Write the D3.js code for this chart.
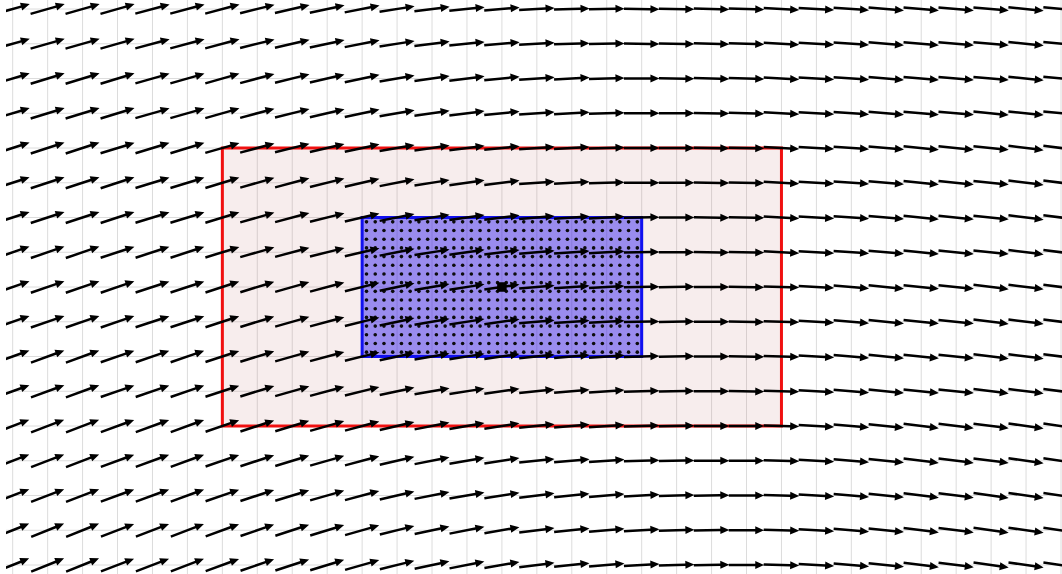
<!DOCTYPE html>
<html>
<head>
<meta charset="utf-8">
<script src="https://cdn.jsdelivr.net/npm/d3@7"></script>
<style>
  html, body { margin: 0; padding: 0; background: #fff; }
  svg { display: block; }
</style>
</head>
<body>
<svg id="chart" width="1062" height="574"></svg>
<script>
// Grid coordinates of the vector field (x columns, y rows)
const xGrid = [-14,-13,-12,-11,-10,-9,-8,-7,-6,-5,-4,-3,-2,-1,0,1,2,3,4,5,6,7,8,9,10,11,12,13,14,15,16];
const yGrid = [8,7,6,5,4,3,2,1,0,-1,-2,-3,-4,-5,-6,-7,-8];

// Flow direction (degrees, counter-clockwise from east) per row (top to bottom), per column (west to east)
const angleRows = [
  [16,16,16,16,15,15,15,14,13,12,11,9,7,6,5,3,2,1,-1,-1,-2,-2,-3,-3,-4,-5,-5,-5,-5,-6,-6],
  [16,16,16,16,15,15,15,14,13,12,11,9,7,6,5,3,2,1,-1,-1,-2,-2,-3,-3,-4,-5,-5,-5,-5,-6,-6],
  [17,17,17,17,16,16,16,15,14,13,12,10,8,7,6,4,3,2,0,-1,-2,-2,-3,-3,-4,-5,-5,-5,-5,-6,-6],
  [17,17,17,17,16,16,16,15,14,13,12,10,8,7,6,4,3,2,0,0,-1,-2,-3,-3,-4,-5,-5,-5,-6,-6,-6],
  [18,18,18,17,17,17,16,15,14,13,12,10,8,7,6,4,3,2,0,0,-1,-1,-3,-3,-4,-5,-6,-6,-6,-7,-7],
  [18,18,18,18,17,17,17,16,15,14,13,11,9,8,7,4,3,2,0,0,-1,-1,-3,-3,-4,-5,-6,-6,-6,-7,-7],
  [18,18,18,18,17,17,17,16,15,14,13,11,9,8,7,5,4,3,1,0,-1,-1,-3,-3,-4,-5,-6,-6,-6,-7,-7],
  [19,19,19,18,18,18,17,16,15,14,13,11,9,8,7,5,4,3,1,0,-1,-1,-3,-3,-4,-5,-6,-6,-6,-7,-7],
  [19,19,19,19,18,18,18,17,16,15,14,12,10,9,8,5,4,3,1,1,0,-1,-2,-3,-5,-6,-6,-6,-7,-7,-7],
  [19,19,19,19,18,18,18,17,16,15,14,12,10,9,8,5,4,3,1,1,0,-1,-2,-3,-5,-6,-6,-6,-7,-7,-7],
  [20,20,20,19,19,19,18,17,16,15,14,12,10,9,8,6,5,4,2,1,0,-1,-2,-3,-5,-6,-6,-6,-7,-7,-7],
  [20,20,20,19,19,19,18,17,16,15,14,12,10,9,8,6,5,4,2,1,0,-1,-2,-3,-5,-6,-6,-6,-7,-7,-7],
  [21,21,21,20,20,20,19,18,17,16,15,13,11,10,9,6,5,4,2,1,0,0,-2,-3,-5,-6,-7,-7,-7,-8,-8],
  [21,21,21,20,20,20,19,18,17,16,15,13,11,10,9,6,5,4,2,1,0,0,-2,-3,-5,-6,-7,-7,-7,-8,-8],
  [21,21,21,20,20,20,19,18,17,16,15,13,11,10,9,7,6,5,3,2,1,0,-2,-3,-5,-6,-7,-7,-8,-8,-8],
  [22,22,22,21,21,21,20,19,18,17,16,14,12,11,10,7,6,5,3,2,1,0,-2,-3,-5,-6,-7,-7,-8,-8,-8],
  [22,22,22,21,21,21,20,19,18,17,16,14,12,11,10,7,6,5,3,2,1,0,-2,-3,-5,-6,-7,-7,-8,-8,-8]
];

// Outer and inner domains, and the central point
const outerBox = [-8, 8, -4, 4];   // xmin, xmax, ymin, ymax
const innerBox = [-4, 4, -2, 2];
const centerPoint = [0, 0];
const sampleStep = 0.25;           // spacing of the sample points inside the inner box

const W = 1062, H = 574;
const svg = d3.select("#chart");

const x = d3.scaleLinear().domain([-14, 16]).range([12.7, 1061.0]);
const y = d3.scaleLinear().domain([8, -8]).range([9, 565]);

svg.append("defs").append("clipPath").attr("id", "plot-clip")
  .append("rect").attr("x", 6).attr("y", 0).attr("width", W - 6).attr("height", H);

const plot = svg.append("g").attr("clip-path", "url(#plot-clip)");

// background
plot.append("rect").attr("x", 0).attr("y", 0).attr("width", W).attr("height", H).attr("fill", "#fff");

// light grid through the field points
plot.append("g").selectAll("line").data(xGrid).join("line")
  .attr("x1", d => x(d)).attr("x2", d => x(d))
  .attr("y1", 0).attr("y2", H)
  .attr("stroke", "#dcdcdc").attr("stroke-width", 1);
plot.append("g").selectAll("line").data(yGrid).join("line")
  .attr("y1", d => y(d)).attr("y2", d => y(d))
  .attr("x1", 0).attr("x2", W)
  .attr("stroke", "#dcdcdc").attr("stroke-width", 1);

function boxRect(b) {
  return { x: x(b[0]), y: y(b[3]), w: x(b[1]) - x(b[0]), h: y(b[2]) - y(b[3]) };
}

// outer domain
const ob = boxRect(outerBox);
plot.append("rect")
  .attr("x", ob.x).attr("y", ob.y).attr("width", ob.w).attr("height", ob.h)
  .attr("fill", "rgb(190,110,110)").attr("fill-opacity", 0.12)
  .attr("stroke", "#f01010").attr("stroke-width", 3);

// inner domain
const ib = boxRect(innerBox);
plot.append("rect")
  .attr("x", ib.x).attr("y", ib.y).attr("width", ib.w).attr("height", ib.h)
  .attr("fill", "#2410f0").attr("fill-opacity", 0.44)
  .attr("stroke", "#1010f0").attr("stroke-width", 3);

// sample points at cell centres inside the inner domain
const samples = [];
for (let sx = innerBox[0] + sampleStep / 2; sx < innerBox[1]; sx += sampleStep) {
  for (let sy = innerBox[2] + sampleStep / 2; sy < innerBox[3]; sy += sampleStep) {
    samples.push([sx, sy]);
  }
}
plot.append("g").selectAll("circle").data(samples).join("circle")
  .attr("cx", d => x(d[0])).attr("cy", d => y(d[1]))
  .attr("r", 1.8).attr("fill", "#0c0c0c");

// quiver arrows, centred on each grid point
const L = 35.5, hw = 1.25, headL = 9, headW = 4;
const arrowPath = `M${-L/2},${-hw} L${L/2 - headL},${-hw} L${L/2 - headL},${-headW} L${L/2},0 ` +
                  `L${L/2 - headL},${headW} L${L/2 - headL},${hw} L${-L/2},${hw} Z`;
const field = [];
yGrid.forEach((gy, r) => xGrid.forEach((gx, c) => field.push({ gx, gy, a: angleRows[r][c] })));
plot.append("g").selectAll("path").data(field).join("path")
  .attr("d", arrowPath)
  .attr("transform", d => `translate(${x(d.gx)},${y(d.gy)}) rotate(${-d.a})`)
  .attr("fill", "#000");

// central point
const m = 9.5;
plot.append("rect")
  .attr("x", x(centerPoint[0]) - m / 2).attr("y", y(centerPoint[1]) - m / 2)
  .attr("width", m).attr("height", m).attr("fill", "#000");
</script>
</body>
</html>
